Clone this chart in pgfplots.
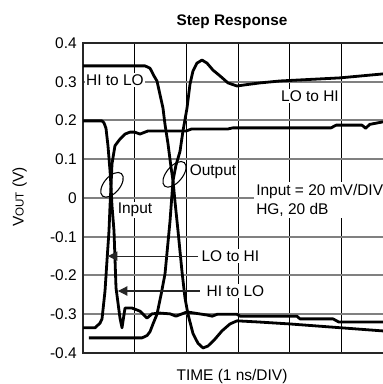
\documentclass[border=0pt]{standalone}
\usepackage{pgfplots}
\pgfplotsset{compat=1.18}
\usepackage{fontspec}
\setmainfont{Liberation Sans}
\usetikzlibrary{arrows.meta,shapes.geometric}
\newcommand{\lbl}{\fontsize{11.6}{14}\selectfont}
\begin{document}
\begin{tikzpicture}
\begin{axis}[
  at={(0,0)}, anchor=south west,
  width=232.5pt, height=232.5pt, scale only axis,
  xmin=0, xmax=6, ymin=-0.4, ymax=0.4,
  xtick={0,1,2,3,4,5,6}, xticklabels={},
  ytick={-0.4,-0.3,-0.2,-0.1,0,0.1,0.2,0.3,0.4},
  yticklabels={-0.4,-0.3,-0.2,-0.1,0,0.1,0.2,0.3,0.4},
  yticklabel style={font=\lbl, anchor=east, inner sep=0pt, xshift=-4.5pt},
  major tick length=0pt,
  grid=major,
  x grid style={black, line width=0.7pt},
  y grid style={black!50, line width=1.5pt},
  axis line style={black!85, line width=1.5pt},
  clip=false,
]
% Input HI to LO
\addplot[black, line width=2.1pt, line join=round] coordinates {
(0,0.199) (0.329,0.199) (0.368,0.199) (0.406,0.194) (0.445,0.18) (0.484,0.134)
(0.523,0.07) (0.542,0.03) (0.561,-0.02) (0.600,-0.085) (0.639,-0.232) (0.716,-0.31)
(0.755,-0.335) (0.813,-0.284) (0.948,-0.284) (1.103,-0.292) (1.239,-0.31) (1.335,-0.299)
(1.49,-0.297) (1.684,-0.299) (1.8,-0.305) (2.013,-0.294) (2.4,-0.302) (2.5,-0.305)
(2.6,-0.3) (2.98,-0.3) (3.04,-0.305) (4.14,-0.305) (4.2,-0.312) (4.84,-0.312)
(4.95,-0.32) (6,-0.32)};
% Input LO to HI
\addplot[black, line width=2.1pt, line join=round] coordinates {
(0,-0.335) (0.232,-0.335) (0.329,-0.323) (0.368,-0.312) (0.426,-0.24) (0.465,-0.16)
(0.503,-0.085) (0.523,-0.02) (0.542,0.03) (0.561,0.088) (0.619,0.135) (0.716,0.152)
(0.813,0.165) (0.91,0.17) (1.0,0.17) (1.103,0.165) (1.258,0.173) (2.0,0.173)
(2.1,0.178) (2.8,0.178) (2.9,0.181) (4.8,0.181) (4.9,0.188) (5.4,0.188)
(5.47,0.18) (5.55,0.19) (5.787,0.196) (6,0.198)};
% Output HI to LO
\addplot[black, line width=2.1pt, line join=round] coordinates {
(0,0.341) (1.2,0.341) (1.297,0.335) (1.374,0.315) (1.432,0.302) (1.548,0.232)
(1.587,0.19) (1.645,0.14) (1.703,0.08) (1.742,0.045) (1.781,-0.01) (1.839,-0.085)
(1.916,-0.19) (1.974,-0.258) (2.032,-0.3) (2.129,-0.35) (2.226,-0.375) (2.323,-0.387)
(2.419,-0.382) (2.555,-0.364) (2.69,-0.343) (2.845,-0.325) (2.981,-0.317) (3.4,-0.32)
(4.0,-0.325) (5.0,-0.335) (6,-0.345)};
% Output LO to HI
\addplot[black, line width=2.1pt, line join=round] coordinates {
(0.116,-0.361) (1.142,-0.361) (1.239,-0.355) (1.297,-0.345) (1.355,-0.325) (1.432,-0.3)
(1.51,-0.25) (1.587,-0.196) (1.684,-0.06) (1.742,0.045) (1.8,0.085) (1.877,0.12)
(1.935,0.173) (2.013,0.232) (2.071,0.294) (2.129,0.328) (2.206,0.348) (2.303,0.356)
(2.4,0.348) (2.516,0.33) (2.652,0.315) (2.806,0.297) (2.981,0.289) (3.135,0.292)
(3.426,0.297) (3.813,0.302) (4.974,0.31) (5.787,0.32) (6,0.323)};
% ellipses
\node[draw, ellipse, line width=0.8pt, minimum width=12pt, minimum height=22pt, inner sep=0pt, rotate=-40] at (axis cs:0.561,0.034) {};
\node[draw, ellipse, line width=0.8pt, minimum width=12pt, minimum height=23pt, inner sep=0pt, rotate=-40] at (axis cs:1.771,0.061) {};
% arrows
\draw[black!85, line width=0.8pt, -{Triangle[length=7pt,width=7pt]}] (axis cs:2.226,-0.15) -- (axis cs:0.484,-0.15);
\draw[black!85, line width=0.8pt, -{Triangle[length=7pt,width=7pt]}] (axis cs:2.264,-0.24) -- (axis cs:0.677,-0.24);
% labels
\node[font=\lbl, fill=white, inner sep=1pt] at (axis cs:0.619,0.305) {HI to LO};
\node[font=\lbl, fill=white, inner sep=1pt] at (axis cs:4.393,0.263) {LO to HI};
\node[font=\lbl, fill=white, inner sep=1pt] at (axis cs:2.516,0.067) {Output};
\node[font=\lbl, fill=white, inner sep=1pt] at (axis cs:1.006,-0.031) {Input};
\node[font=\lbl, fill=white, inner sep=1.5pt, anchor=west, align=left] at (axis cs:3.31,-0.006) {Input = 20 mV/DIV\\HG, 20 dB};
\node[font=\lbl, fill=white, inner sep=1pt, anchor=west] at (axis cs:2.265,-0.15) {LO to HI};
\node[font=\lbl, fill=white, inner sep=1pt, anchor=west] at (axis cs:2.361,-0.24) {HI to LO};
\end{axis}
\node[font=\bfseries\fontsize{11.5}{13}\selectfont, anchor=base] at (111.75pt,245.5pt) {Step Response};
\node[font=\lbl, anchor=base] at (111.75pt,-20.25pt) {TIME (1 ns/DIV)};
\node[font=\lbl, rotate=90, anchor=base] at (-44.5pt,117pt) {V{\fontsize{8.7}{10}\selectfont OUT} (V)};
\pgfresetboundingbox
\path[use as bounding box] (-62.25pt,-23.25pt) rectangle (224.25pt,264.75pt);
\end{tikzpicture}
\end{document}
